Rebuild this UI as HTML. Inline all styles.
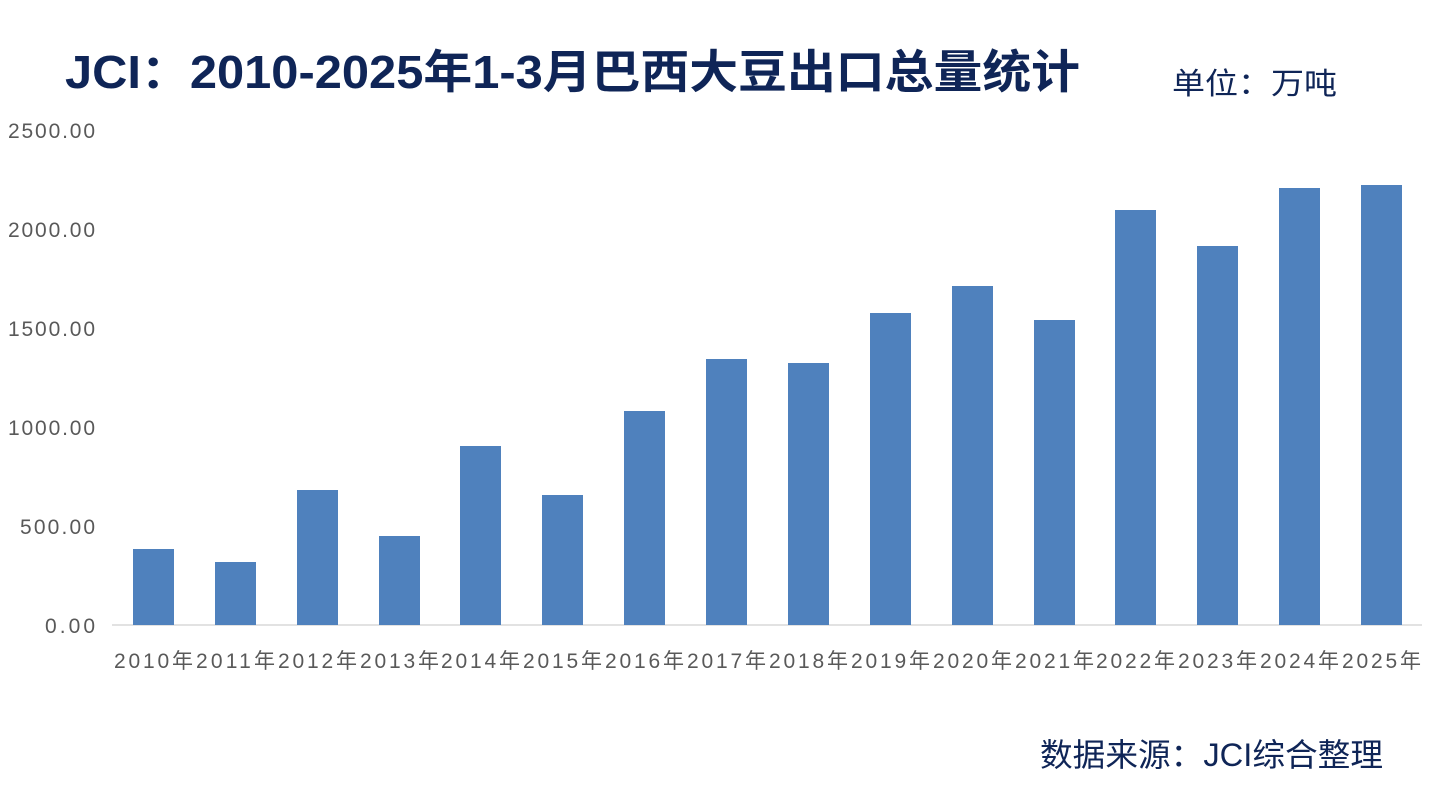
<!DOCTYPE html>
<html><head><meta charset="utf-8"><style>
body{margin:0;width:1434px;height:793px;background:#fff;overflow:hidden;position:relative;font-family:"Liberation Sans","Noto Sans CJK SC",sans-serif}
.t{position:absolute;white-space:nowrap}
</style></head><body>
<svg width="1434" height="793" style="position:absolute;left:0;top:0" font-family="Liberation Sans, Noto Sans CJK SC, sans-serif">
<text x="65" y="88" font-size="46" font-weight="bold" fill="#0f2557" textLength="1015" lengthAdjust="spacingAndGlyphs">JCI：2010-2025年1-3月巴西大豆出口总量统计</text>
<text x="1172" y="94" font-size="30" fill="#0f2557" textLength="165" lengthAdjust="spacingAndGlyphs">单位：万吨</text>
<text x="1040" y="766" font-size="32" fill="#0f2557" textLength="343" lengthAdjust="spacingAndGlyphs">数据来源：JCI综合整理</text>
<g fill="#595959" font-size="21">
<text x="8" y="138" textLength="87">2500.00</text>
<text x="8" y="237" textLength="87">2000.00</text>
<text x="8" y="336" textLength="87">1500.00</text>
<text x="8" y="435" textLength="87">1000.00</text>
<text x="20" y="534" textLength="75">500.00</text>
<text x="45" y="633" textLength="50">0.00</text>
</g>
<line x1="112" y1="625" x2="1422" y2="625" stroke="#d9d9d9" stroke-width="1.5"/>
<g fill="#4f81bd">
<rect x="133" y="549" width="41" height="76"/>
<rect x="215" y="562" width="41" height="63"/>
<rect x="297" y="490" width="41" height="135"/>
<rect x="379" y="536" width="41" height="89"/>
<rect x="460" y="446" width="41" height="179"/>
<rect x="542" y="495" width="41" height="130"/>
<rect x="624" y="411" width="41" height="214"/>
<rect x="706" y="359" width="41" height="266"/>
<rect x="788" y="363" width="41" height="262"/>
<rect x="870" y="313" width="41" height="312"/>
<rect x="952" y="286" width="41" height="339"/>
<rect x="1034" y="320" width="41" height="305"/>
<rect x="1115" y="210" width="41" height="415"/>
<rect x="1197" y="246" width="41" height="379"/>
<rect x="1279" y="188" width="41" height="437"/>
<rect x="1361" y="185" width="41" height="440"/>
</g>
<g fill="#595959" font-size="21">
<text x="114" y="668" textLength="79">2010年</text><text x="196" y="668" textLength="79">2011年</text><text x="278" y="668" textLength="79">2012年</text><text x="360" y="668" textLength="79">2013年</text>
<text x="441" y="668" textLength="79">2014年</text><text x="523" y="668" textLength="79">2015年</text><text x="605" y="668" textLength="79">2016年</text><text x="687" y="668" textLength="79">2017年</text>
<text x="769" y="668" textLength="79">2018年</text><text x="851" y="668" textLength="79">2019年</text><text x="933" y="668" textLength="79">2020年</text><text x="1015" y="668" textLength="79">2021年</text>
<text x="1096" y="668" textLength="79">2022年</text><text x="1178" y="668" textLength="79">2023年</text><text x="1260" y="668" textLength="79">2024年</text><text x="1342" y="668" textLength="79">2025年</text>
</g>
</svg>
</body></html>
